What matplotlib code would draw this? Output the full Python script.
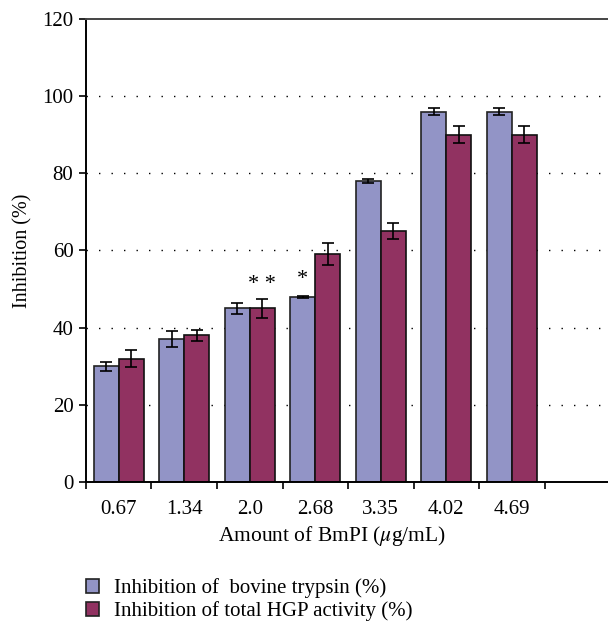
import numpy as np
import matplotlib
matplotlib.use("Agg")
import matplotlib.pyplot as plt
from matplotlib.patches import Patch

# --- data --------------------------------------------------------------------
doses = ["0.67", "1.34", "2.0", "2.68", "3.35", "4.02", "4.69"]
trypsin = [30, 37, 45, 48, 78, 96, 96]
trypsin_err = [1.2, 2.1, 1.5, 0.3, 0.5, 0.8, 0.8]
hgp = [32, 38, 45, 59, 65, 90, 90]
hgp_err = [2.2, 1.5, 2.5, 2.8, 2.0, 2.2, 2.2]
labels = ["Inhibition of  bovine trypsin (%)", "Inhibition of total HGP activity (%)"]

# --- main --------------------------------------------------------------------
plt.rcParams["font.family"] = ["Liberation Serif", "DejaVu Serif"]
plt.rcParams["mathtext.fontset"] = "stix"

blue, red = "#9294c6", "#913261"

fig = plt.figure(figsize=(6.08, 6.25), dpi=100)
ax = fig.add_axes([0.1414, 0.2288, 0.862, 0.741])

x = np.arange(len(doses)) + 0.5
w = 0.38
ax.bar(x - w/2, trypsin, w, color=blue, edgecolor="#222222", linewidth=1.2, zorder=2)
ax.bar(x + w/2, hgp, w, color=red, edgecolor="#111111", linewidth=1.2, zorder=2)
ax.errorbar(x - w/2, trypsin, yerr=trypsin_err, fmt="none", ecolor="black",
            elinewidth=1.2, capsize=4, capthick=1.2, zorder=3)
ax.errorbar(x + w/2, hgp, yerr=hgp_err, fmt="none", ecolor="black",
            elinewidth=1.2, capsize=4, capthick=1.2, zorder=3)

# significance marks
ax.text(x[2] + w/2, hgp[2] + hgp_err[2] + 1.3, "* *", ha="center", va="bottom", fontsize=16)
ax.text(x[3] - w/2, trypsin[3] + trypsin_err[3] + 1.6, "*", ha="center", va="bottom", fontsize=16)

ax.set_xlim(0, len(doses) + 1)
ax.set_ylim(0, 120)
ax.set_yticks(np.arange(0, 121, 20))
ax.set_xticks(x)
ax.set_xticklabels(doses)
ax.set_xticks(np.arange(0, len(doses) + 2), minor=True)
ax.tick_params(axis="x", which="major", length=0, pad=13, labelsize=15)
ax.tick_params(axis="x", which="minor", length=5, width=1.2, direction="out")
ax.tick_params(axis="y", length=5, width=1.2, labelsize=15, pad=4)

for v in range(20, 101, 20):
    ax.axhline(v, color="black", linestyle=(0, (1, 8)), linewidth=1.0, zorder=1)

ax.spines["right"].set_visible(False)
ax.spines["top"].set_color("#444444")
ax.spines["top"].set_linewidth(1.4)
for s in ("left", "bottom"):
    ax.spines[s].set_linewidth(1.4)

ax.set_ylabel("Inhibition (%)", fontsize=14.5, labelpad=7)
ax.set_xlabel(r"Amount of BmPI ($\mu$g/mL)", fontsize=15.5)
ax.xaxis.set_label_coords(0.47, -0.09)

handles = [Patch(facecolor=blue, edgecolor="#222222", linewidth=1.2),
           Patch(facecolor=red, edgecolor="#222222", linewidth=1.2)]
fig.legend(handles, labels, loc="upper left", bbox_to_anchor=(0.128, 0.088),
           frameon=False, fontsize=15, handlelength=0.6, handleheight=0.6,
           handletextpad=0.75, labelspacing=0.15, borderaxespad=0)

fig.savefig("out.png", dpi=100)
